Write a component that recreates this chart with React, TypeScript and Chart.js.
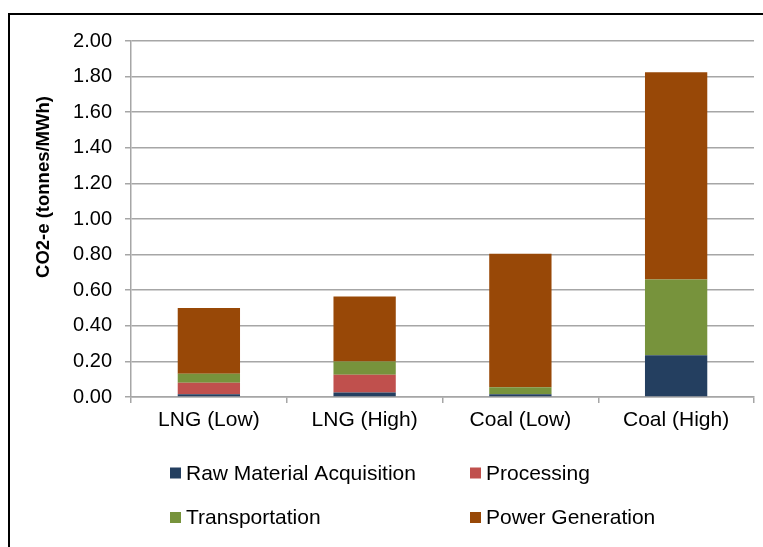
import React, { useEffect, useRef } from "react";
import { Chart, registerables } from "chart.js";

Chart.register(...registerables);

const categories = ["LNG (Low)", "LNG (High)", "Coal (Low)", "Coal (High)"];
const rawMaterial = [0.015, 0.025, 0.015, 0.235];
const processing = [0.065, 0.1, 0, 0];
const transportation = [0.05, 0.075, 0.04, 0.425];
const powerGeneration = [0.37, 0.365, 0.75, 1.165];
const seriesNames = ["Raw Material Acquisition", "Processing", "Transportation", "Power Generation"];
const seriesColors = ["#243F60", "#C0504D", "#77933C", "#984807"];
const yTitle = "CO2-e (tonnes/MWh)";

const FONT = "'Liberation Sans', Arial, sans-serif";

const framePlugin = {
  id: "frameAndLegend",
  afterDraw(chart: any) {
    const ctx = chart.ctx as CanvasRenderingContext2D;
    ctx.save();
    // outer frame
    ctx.strokeStyle = "#000";
    ctx.lineWidth = 2;
    ctx.beginPath();
    ctx.moveTo(9, chart.height);
    ctx.lineTo(9, 14);
    ctx.lineTo(chart.width, 14);
    ctx.stroke();

    // y title
    ctx.fillStyle = "#000";
    ctx.font = `bold 18.5px ${FONT}`;
    ctx.textAlign = "center";
    ctx.textBaseline = "middle";
    ctx.translate(44, 187);
    ctx.rotate(-Math.PI / 2);
    ctx.fillText(yTitle, 0, 0);
    ctx.restore();

    // legend 2x2
    ctx.save();
    const cols = [170, 470];
    const rows = [473, 517.5];
    ctx.font = `21px ${FONT}`;
    ctx.textAlign = "left";
    ctx.textBaseline = "middle";
    seriesNames.forEach((name, i) => {
      const cx = cols[i % 2];
      const cy = rows[Math.floor(i / 2)];
      ctx.fillStyle = seriesColors[i];
      ctx.fillRect(cx, cy - 5.5, 11, 11);
      ctx.fillStyle = "#000";
      ctx.fillText(name, cx + 16, cy + 1);
    });
    ctx.restore();
  },
};

export default function App() {
  const ref = useRef<HTMLCanvasElement | null>(null);
  useEffect(() => {
    if (!ref.current) return;
    const series = [rawMaterial, processing, transportation, powerGeneration];
    const chart = new Chart(ref.current, {
      type: "bar",
      data: {
        labels: categories,
        datasets: series.map((d, i) => ({
          label: seriesNames[i],
          data: d,
          backgroundColor: seriesColors[i],
          borderWidth: 0,
          categoryPercentage: 1,
          barPercentage: 0.4,
        })),
      },
      options: {
        responsive: true,
        maintainAspectRatio: false,
        animation: false,
        layout: { padding: { top: 41, right: 9, left: 0, bottom: 0 } },
        plugins: {
          legend: { display: false },
          tooltip: { enabled: false },
        },
        scales: {
          x: {
            stacked: true,
            grid: {
              display: true,
              offset: true,
              drawOnChartArea: false,
              drawTicks: true,
              tickLength: 6,
              color: "#A6A6A6",
              lineWidth: 1.5,
            },
            border: { display: true, color: "#A6A6A6", width: 1.5 },
            ticks: {
              color: "#000",
              font: { family: FONT, size: 21 },
              padding: 5,
              maxRotation: 0,
            },
            afterFit(scale: any) {
              scale.height = 150;
            },
          },
          y: {
            stacked: true,
            min: 0,
            max: 2,
            grid: {
              color: "#A6A6A6",
              lineWidth: 1.5,
              tickLength: 6,
            },
            border: { display: true, color: "#A6A6A6", width: 1.5 },
            ticks: {
              stepSize: 0.2,
              color: "#000",
              font: { family: FONT, size: 20 },
              padding: 13,
              callback: (v: any) => Number(v).toFixed(2),
            },
            afterFit(scale: any) {
              scale.width = 131;
            },
          },
        },
      },
      plugins: [framePlugin],
    });
    return () => chart.destroy();
  }, []);
  return (
    <div style={{ position: "absolute", left: 0, top: 0, width: 763, height: 547, background: "#fff" }}>
      <canvas ref={ref} />
    </div>
  );
}
